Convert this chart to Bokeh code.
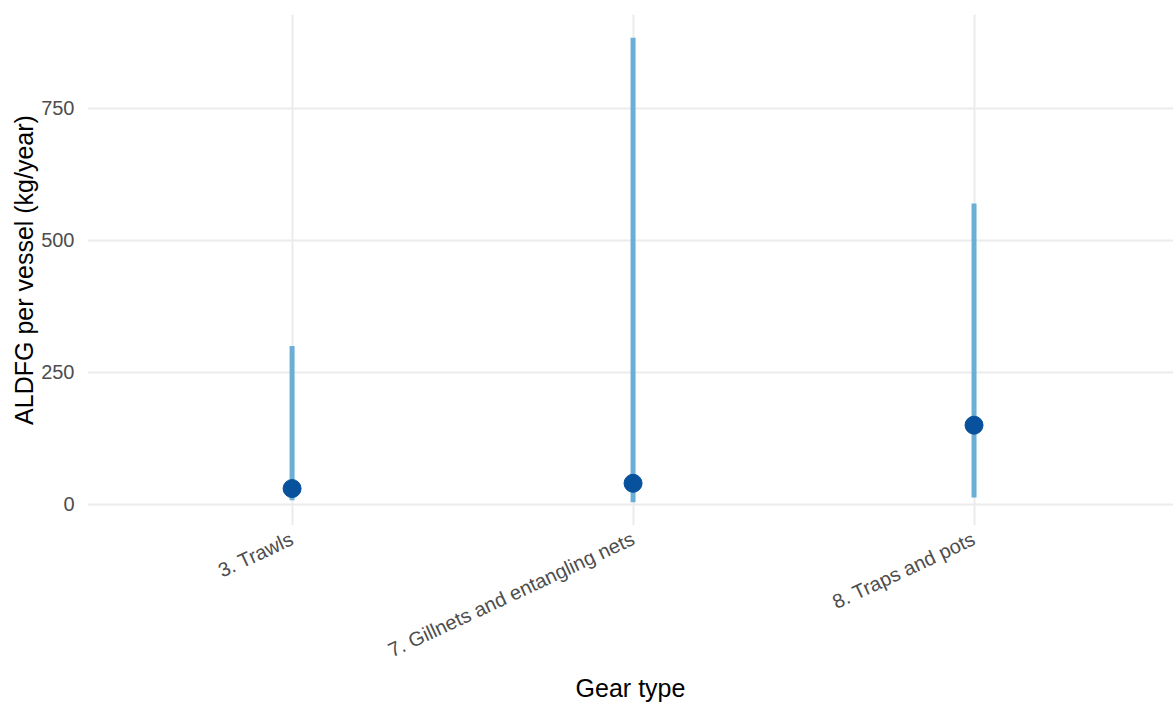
import math
from bokeh.plotting import figure
from bokeh.models import Range1d, FixedTicker, ColumnDataSource
from bokeh.embed import file_html
from bokeh.resources import INLINE

gear = ["3. Trawls", "7. Gillnets and entangling nets", "8. Traps and pots"]
median = [30, 40, 150]
low = [8, 4, 13]
high = [300, 884, 570]
y_ticks = [0, 250, 500, 750]

pos = list(range(1, len(gear) + 1))
src = ColumnDataSource(dict(x=pos, gear=gear, med=median, lo=low, hi=high))

p = figure(width=1173, height=705, output_backend="svg", toolbar_location=None,
           x_range=Range1d(0.4, 3.585), y_range=Range1d(-40, 928),
           min_border_left=87, min_border_right=0, min_border_top=14,
           min_border_bottom=180)
p.outline_line_color = None
p.background_fill_color = "white"
p.border_fill_color = "white"

p.segment(x0="x", y0="lo", x1="x", y1="hi", source=src,
          line_color="#6baed6", line_width=5)
p.scatter(x="x", y="med", source=src, size=18, fill_color="#08519c",
          line_color="#08519c")

p.xaxis.ticker = FixedTicker(ticks=pos)
p.xaxis.major_label_overrides = {i: g for i, g in zip(pos, gear)}
p.xaxis.major_label_orientation = math.radians(25)
p.yaxis.ticker = FixedTicker(ticks=y_ticks)

for ax in (p.xaxis, p.yaxis):
    ax.axis_line_color = None
    ax.major_tick_line_color = None
    ax.minor_tick_line_color = None
    ax.major_label_text_font = "Liberation Sans"
    ax.major_label_text_font_size = "20px"
    ax.major_label_text_color = "#4d4d4d"
    ax.axis_label_text_font = "Liberation Sans"
    ax.axis_label_text_font_size = "25px"
    ax.axis_label_text_font_style = "normal"
    ax.axis_label_text_color = "black"

p.xaxis.axis_label = "Gear type"
p.yaxis.axis_label = "ALDFG per vessel (kg/year)"
p.yaxis.major_label_standoff = 7
p.yaxis.axis_label_standoff = 0
p.xaxis.major_label_standoff = 6
p.xaxis.axis_label_standoff = 0

p.grid.grid_line_color = "#ebebeb"
p.grid.grid_line_width = 2
p.grid.minor_grid_line_color = None

open("out.html", "w").write(file_html(p, INLINE))
